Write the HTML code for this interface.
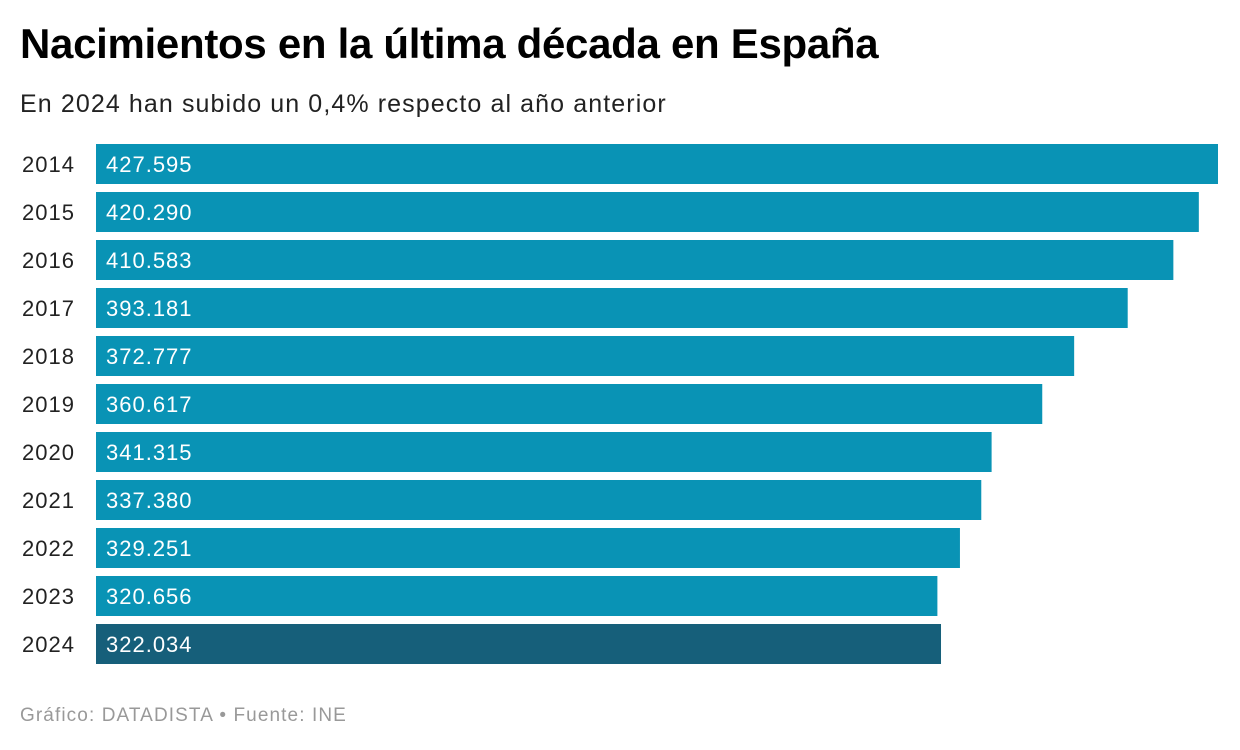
<!DOCTYPE html>
<html><head><meta charset="utf-8">
<style>
body{margin:0;width:1240px;height:750px;background:#fff;font-family:"Liberation Sans",sans-serif;overflow:hidden;position:relative}
#title{position:absolute;left:20px;top:20px;font-size:42px;font-weight:bold;color:#000;letter-spacing:-0.3px}
#sub{position:absolute;left:20px;top:90px;font-size:25px;color:#222;letter-spacing:1.1px}
#foot{position:absolute;left:20px;top:705px;font-size:19px;color:#999;letter-spacing:1.1px}
svg{position:absolute;left:0;top:0}
</style></head><body>
<div id="title">Nacimientos en la última década en España</div>
<div id="sub">En 2024 han subido un 0,4% respecto al año anterior</div>
<svg id="chart" width="1240" height="750"></svg>
<div id="foot">Gráfico: DATADISTA • Fuente: INE</div>
<script>
const years=["2014","2015","2016","2017","2018","2019","2020","2021","2022","2023","2024"];
const births=[427595,420290,410583,393181,372777,360617,341315,337380,329251,320656,322034];
const labels=["427.595","420.290","410.583","393.181","372.777","360.617","341.315","337.380","329.251","320.656","322.034"];
const svg=document.getElementById('chart');
const NS='http://www.w3.org/2000/svg';
const x0=96,x1=1218,maxV=Math.max(...births);
const xs=v=>x0+(v/maxV)*(x1-x0);
const ys=i=>144+i*48;
years.forEach((y,i)=>{
  const r=document.createElementNS(NS,'rect');
  r.setAttribute('x',x0);r.setAttribute('y',ys(i));
  r.setAttribute('width',xs(births[i])-x0);r.setAttribute('height',40);
  r.setAttribute('fill',i===years.length-1?'#165f7a':'#0993b5');
  
  
  svg.appendChild(r);
  const t=document.createElementNS(NS,'text');
  t.setAttribute('x',22);t.setAttribute('y',ys(i)+28);
  t.setAttribute('font-size','22');t.setAttribute('fill','#222');
  t.setAttribute('letter-spacing','1');
  t.textContent=y;
  
  
  svg.appendChild(t);
  const v=document.createElementNS(NS,'text');
  v.setAttribute('x',106);v.setAttribute('y',ys(i)+28);
  v.setAttribute('font-size','22');v.setAttribute('fill','#fff');
  v.setAttribute('letter-spacing','1');
  v.textContent=labels[i];
  
  
  svg.appendChild(v);
});
</script>
</body></html>
